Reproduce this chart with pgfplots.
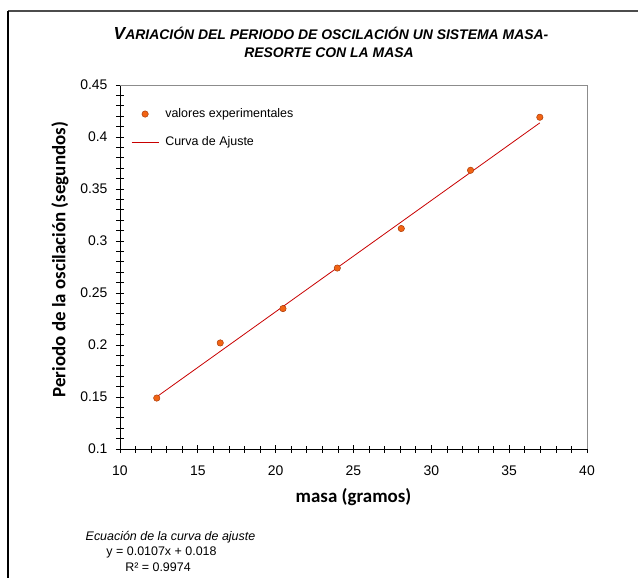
\documentclass[border=0pt]{standalone}
\usepackage{fontspec}
\setmainfont{Liberation Sans}
\newfontfamily\carlito{Carlito}
\usepackage{pgfplots}
\pgfplotsset{compat=1.18}
\definecolor{mkfill}{RGB}{242,100,20}
\definecolor{mkdraw}{RGB}{170,60,10}
\definecolor{fitred}{RGB}{200,0,0}
\pgfplotsset{
  markleg/.style={legend image code/.code={\node[inner sep=0pt, minimum width=27bp, minimum height=2bp, draw=none, fill=none] at (13.5bp,0bp) {}; \draw[##1] plot[only marks] coordinates {(13.5bp,0bp)};}},
  lineleg/.style={legend image code/.code={\draw[##1] (0bp,0bp) -- (27bp,0bp);}},
}
\begin{document}
\begin{tikzpicture}
\path[use as bounding box] (0bp,0bp) rectangle (638bp,-578bp);
\draw[line width=1.8bp, black!70] (8bp,-11bp) -- (638bp,-11bp);
\draw[line width=1.2bp, black] (8bp,-11bp) -- (8bp,-578bp);
\node[font=\fontsize{14}{16}\selectfont\bfseries\itshape, inner sep=0pt] at (331bp,-33bp)
  {{\fontsize{17.5}{18}\selectfont V}ARIACIÓN DEL PERIODO DE OSCILACIÓN UN SISTEMA MASA-};
\node[font=\fontsize{14}{16}\selectfont\bfseries\itshape, inner sep=0pt] at (329bp,-53bp)
  {RESORTE CON LA MASA};
\begin{axis}[
  scale only axis, width=467bp, height=364bp,
  at={(120bp,-449bp)}, anchor=south west,
  xmin=10, xmax=40, ymin=0.1, ymax=0.45,
  xtick={10,15,20,25,30,35,40},
  ytick={0.1,0.15,0.2,0.25,0.3,0.35,0.4,0.45},
  minor x tick num=4, minor y tick num=4,
  tick align=center,
  major tick length=8bp, minor tick length=7bp,
  axis x line*=bottom, axis y line*=left,
  axis line style={-, black, line width=0.8bp},
  every tick/.style={black, line width=0.7bp},
  tick label style={font=\fontsize{14}{16}\selectfont},
  xticklabel style={yshift=-9bp},
  /pgf/number format/assume math mode=true,
  yticklabel style={/pgf/number format/fixed, /pgf/number format/precision=2, xshift=-5bp},
  xlabel={masa (gramos)},
  ylabel={Periodo de la oscilación (segundos)},
  label style={font=\carlito\bfseries\fontsize{19}{22}\selectfont},
  xlabel style={at={(axis description cs:0.5,-0.131)}, anchor=center},
  ylabel style={at={(axis description cs:-0.1285,0.52)}, anchor=center},
  legend style={at={(axis description cs:0.0236,0.94)}, anchor=north west,
    draw=none, fill=none, inner sep=0pt, font=\fontsize{12.5}{14}\selectfont,
    nodes={inner sep=1bp, text height=9bp, text depth=3bp}, row sep=14bp,
    column sep=-8bp},
  legend cell align=left,
  clip=false,
]
\addplot[only marks, mark=*, mark size=3.2bp,
  mark options={fill=mkfill, draw=mkdraw, line width=0.5bp}, markleg]
  coordinates {(12.36,0.149) (16.44,0.202) (20.47,0.235) (23.96,0.274) (28.07,0.312) (32.52,0.368) (36.97,0.419)};
\addlegendentry{valores experimentales}
\addplot[fitred, line width=0.8bp, no marks, lineleg]
  coordinates {(12.36,0.1502) (36.97,0.4136)};
\addlegendentry{Curva de Ajuste}
\draw[black!45, line width=0.8bp] (rel axis cs:0,1) -- (rel axis cs:1,1) -- (rel axis cs:1,0);
\end{axis}
\node[font=\fontsize{12.5}{14}\selectfont\itshape, inner sep=0pt] at (170.5bp,-537bp) {Ecuación de la curva de ajuste};
\node[font=\fontsize{12.5}{14}\selectfont, inner sep=0pt] at (161.5bp,-552bp) {y = 0.0107x + 0.018};
\node[font=\fontsize{12.5}{14}\selectfont, inner sep=0pt] at (158bp,-567bp) {R² = 0.9974};
\end{tikzpicture}
\end{document}
